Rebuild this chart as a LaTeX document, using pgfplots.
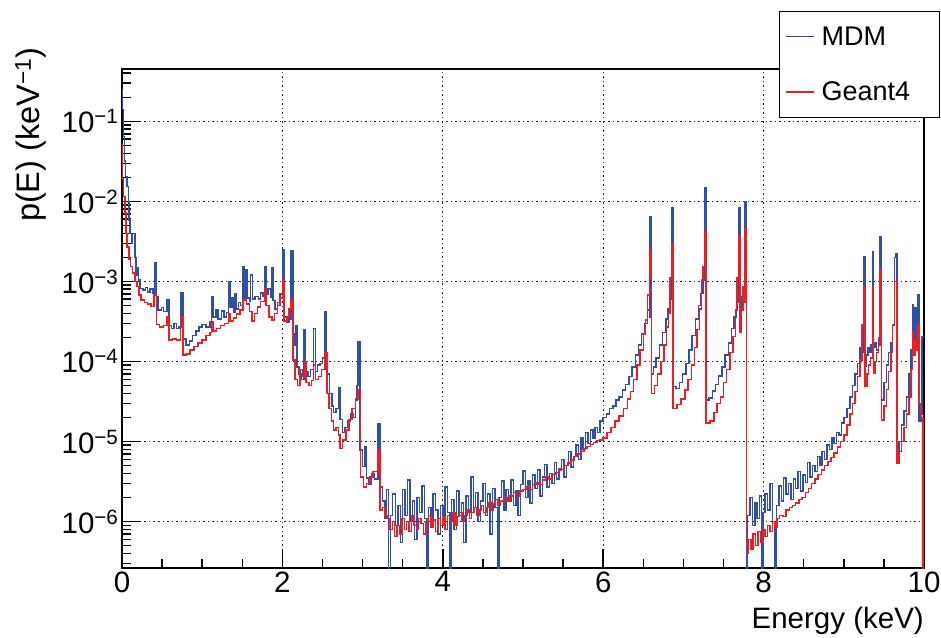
\documentclass[border=0pt]{standalone}
\usepackage{fontspec}
\setmainfont{Liberation Sans}
\usepackage{pgfplots}
\pgfplotsset{compat=1.18}
\definecolor{mdmblue}{RGB}{48,80,168}
\definecolor{gred}{RGB}{236,30,36}
\begin{document}
\begin{tikzpicture}
\path[use as bounding box] (-122pt,-69pt) rectangle (819pt,568pt);
\begin{axis}[
  at={(0pt,0pt)}, anchor=south west,
  scale only axis, width=802pt, height=499pt,
  ymode=log, xmin=0, xmax=10, ymin=2.63e-7, ymax=0.452,
  axis line style={line width=1.5pt},
  tick style={line width=1.5pt, black},
  tick align=inside, xtick pos=bottom, ytick pos=left,
  major tick length=19pt, minor tick length=9pt,
  xtick={0,2,4,6,8,10}, xticklabels={0,2,4,6,8,10},
  minor x tick num=3,
  ytick={1e-6,1e-5,1e-4,1e-3,1e-2,1e-1},
  yticklabels={10\textsuperscript{−6},10\textsuperscript{−5},10\textsuperscript{−4},10\textsuperscript{−3},10\textsuperscript{−2},10\textsuperscript{−1}},
  minor ytick={3e-7,4e-7,5e-7,6e-7,7e-7,8e-7,9e-7,
    2e-6,3e-6,4e-6,5e-6,6e-6,7e-6,8e-6,9e-6,
    2e-5,3e-5,4e-5,5e-5,6e-5,7e-5,8e-5,9e-5,
    2e-4,3e-4,4e-4,5e-4,6e-4,7e-4,8e-4,9e-4,
    2e-3,3e-3,4e-3,5e-3,6e-3,7e-3,8e-3,9e-3,
    2e-2,3e-2,4e-2,5e-2,6e-2,7e-2,8e-2,9e-2,
    2e-1,3e-1,4e-1},
  xmajorgrids, ymajorgrids,
  major grid style={line width=1.1pt, black!85, dash pattern=on 1.5pt off 3pt},
  tick label style={font=\fontsize{29.5}{34}\selectfont},
  xlabel={Energy (keV)},
  xlabel style={font=\fontsize{29.5}{34}\selectfont, at={(axis description cs:1,-0.078)}, anchor=north east, inner sep=0pt},
  ylabel={p(E) (keV\textsuperscript{−1})},
  ylabel style={font=\fontsize{32.5}{38}\selectfont, at={(axis description cs:-0.1135,0.693)}, anchor=west, inner sep=0pt},
  legend style={at={(axis description cs:0.819,1.116)}, anchor=north west,
    draw=black, line width=1pt, fill=white, inner xsep=6pt, inner ysep=13pt,
    row sep=31pt, font=\fontsize{27}{32}\selectfont, legend cell align=left,
    /tikz/every odd column/.append style={column sep=5pt}},
  legend image code/.code={\draw[#1, line width=1.3pt] (0pt,0pt) -- (28pt,0pt);},
  clip=true,
]
\addplot[const plot, color=mdmblue, line width=1.5pt] table[x=x,y=y] {
x y
0.000 0.25
0.008 0.14
0.016 0.065
0.030 0.032
0.045 0.0205
0.065 0.0154
0.080 0.0100
0.090 0.0059
0.100 0.0040
0.118 0.0030
0.128 0.0040
0.160 0.0020
0.175 0.0012
0.190 0.0015
0.205 0.00105
0.225 0.00082
0.260 0.00078
0.290 0.00084
0.320 0.00074
0.350 0.00080
0.385 0.00072
0.410 0.0017
0.430 0.00065
0.450 0.00044
0.490 0.00047
0.520 0.00042
0.560 0.00059
0.585 0.00028
0.620 0.00026
0.650 0.00030
0.680 0.00026
0.710 0.00027
0.735 0.00072
0.760 0.00019
0.800 0.00016
0.840 0.00018
0.880 0.00021
0.920 0.00024
0.960 0.00027
1.000 0.00029
1.050 0.00027
1.100 0.00031
1.115 0.00065
1.135 0.00036
1.170 0.00044
1.200 0.00034
1.240 0.00043
1.270 0.00036
1.300 0.00041
1.325 0.0010
1.345 0.00047
1.370 0.00062
1.390 0.00041
1.410 0.00070
1.430 0.00045
1.455 0.00055
1.480 0.00050
1.510 0.00155
1.530 0.00060
1.545 0.00140
1.565 0.00062
1.590 0.00056
1.605 0.00120
1.625 0.00060
1.660 0.00065
1.700 0.00060
1.730 0.00072
1.760 0.00066
1.775 0.00155
1.795 0.00070
1.820 0.00080
1.850 0.00064
1.865 0.0015
1.885 0.00058
1.910 0.00045
1.940 0.00055
1.970 0.00070
2.000 0.0025
2.020 0.00036
2.050 0.00031
2.080 0.00034
2.105 0.0024
2.130 0.00016
2.155 0.00022
2.165 0.00028
2.180 0.000085
2.210 0.000070
2.240 0.000060
2.270 0.00025
2.290 0.000075
2.320 0.000065
2.350 0.000080
2.390 0.00026
2.410 0.000075
2.440 0.000090
2.470 0.000095
2.500 0.00011
2.530 0.00042
2.550 0.00012
2.565 0.000070
2.590 0.000040
2.620 0.000028
2.640 0.000023
2.670 0.000026
2.700 0.000047
2.720 0.000019
2.750 0.000013
2.780 0.000015
2.810 0.000018
2.850 0.000022
2.880 0.000020
2.910 0.000033
2.930 0.000050
2.945 0.000178
2.970 0.0000079
3.000 0.0000049
3.030 0.0000085
3.050 0.0000035
3.080 0.0000029
3.110 0.0000040
3.150 0.0000034
3.195 0.0000165
3.220 0.0000027
3.250 0.0000018
3.280 0.0000011
3.300 0.0000025
3.320 0.0000001
3.345 0.0000012
3.37 2.2e-6
3.41 9e-7
3.44 1.6e-6
3.47 5.5e-7
3.50 2.5e-6
3.53 1.2e-6
3.56 3.3e-6
3.59 1.0e-6
3.62 1.8e-6
3.65 6e-7
3.68 2.0e-6
3.71 1.3e-6
3.74 2.8e-6
3.77 1.1e-6
3.80 1e-7
3.82 1.5e-6
3.85 9e-7
3.88 2.2e-6
3.91 1.4e-6
3.94 7e-7
3.97 1.6e-6
4.00 1.1e-6
4.03 2.7e-6
4.06 1.3e-6
4.09 1e-7
4.11 1.9e-6
4.14 8e-7
4.17 2.4e-6
4.20 1.2e-6
4.23 1.7e-6
4.26 5.5e-7
4.29 2.1e-6
4.32 1.3e-6
4.35 3.6e-6
4.38 1.5e-6
4.41 2.3e-6
4.44 1.0e-6
4.47 1.8e-6
4.50 3.0e-6
4.53 1.2e-6
4.56 2.2e-6
4.59 7e-7
4.62 2.6e-6
4.65 1.5e-6
4.68 1e-7
4.70 2.0e-6
4.73 3.2e-6
4.76 1.4e-6
4.79 2.5e-6
4.82 1.8e-6
4.85 3.3e-6
4.88 1.6e-6
4.91 2.4e-6
4.94 1.2e-6
4.97 2.9e-6
5.00 4.3e-6
5.03 2.0e-6
5.06 3.2e-6
5.09 1.7e-6
5.12 3.8e-6
5.15 2.6e-6
5.18 4.4e-6
5.21 2.1e-6
5.24 3.6e-6
5.27 5.2e-6
5.30 2.7e-6
5.33 4.0e-6
5.36 3.0e-6
5.39 5.5e-6
5.42 3.4e-6
5.45 4.6e-6
5.48 6.0e-6
5.51 3.6e-6
5.54 5.0e-6
5.57 7.5e-6
5.60 4.8e-6
5.63 6.5e-6
5.66 9.0e-6
5.69 6.0e-6
5.72 1.1e-5
5.75 8.0e-6
5.78 1.3e-5
5.81 9.5e-6
5.84 1.4e-5
5.87 1.1e-5
5.90 1.5e-5
5.93 1.3e-5
5.96 1.8e-5
6.00 2.0e-5
6.04 2.2e-5
6.08 2.6e-5
6.12 2.8e-5
6.16 3.3e-5
6.20 3.6e-5
6.24 4.4e-5
6.28 5.2e-5
6.32 6.5e-5
6.36 8.5e-5
6.40 1.2e-4
6.44 1.6e-4
6.48 2.2e-4
6.52 3.0e-4
6.555 4.4e-4
6.575 3.6e-4
6.585 6.5e-3
6.600 7.0e-5
6.630 8.5e-5
6.660 1.1e-4
6.700 1.6e-4
6.740 2.3e-4
6.780 3.4e-4
6.810 4.6e-4
6.835 6.0e-4
6.850 8.3e-3
6.870 4.9e-5
6.910 4.6e-5
6.950 5.5e-5
6.990 7.0e-5
7.030 9.5e-5
7.070 1.4e-4
7.110 2.1e-4
7.150 3.4e-4
7.190 5.0e-4
7.220 7.1e-4
7.245 1.05e-3
7.260 1.48e-2
7.280 3.3e-5
7.320 3.5e-5
7.360 4.3e-5
7.400 5.2e-5
7.440 6.6e-5
7.480 8.5e-5
7.520 1.2e-4
7.560 1.7e-4
7.600 2.6e-4
7.630 3.6e-4
7.660 5.5e-4
7.680 8.0e-4
7.690 8.3e-3
7.705 4.4e-4
7.720 6.5e-4
7.745 7.5e-4
7.765 1.0e-2
7.785 1e-7
7.800 1.2e-6
7.83 2.0e-6
7.86 9e-7
7.89 1.7e-6
7.92 1.1e-6
7.95 2.1e-6
7.975 1e-7
7.99 1.3e-6
8.02 2.2e-6
8.05 1.4e-6
8.08 3.0e-6
8.11 1.0e-6
8.14 1e-7
8.16 1.6e-6
8.19 2.8e-6
8.22 1.8e-6
8.25 3.5e-6
8.28 2.2e-6
8.31 3.0e-6
8.34 1.9e-6
8.37 3.4e-6
8.40 2.6e-6
8.43 4.2e-6
8.46 2.4e-6
8.49 3.8e-6
8.52 3.1e-6
8.55 5.5e-6
8.58 3.6e-6
8.61 5.0e-6
8.64 4.2e-6
8.67 6.5e-6
8.70 5.0e-6
8.73 7.5e-6
8.76 6.0e-6
8.79 9.0e-6
8.82 8.0e-6
8.85 1.1e-5
8.88 9.5e-6
8.91 1.3e-5
8.94 1.2e-5
8.97 1.7e-5
9.00 2.0e-5
9.04 2.6e-5
9.08 3.6e-5
9.11 5.0e-5
9.14 7.0e-5
9.17 9.5e-5
9.20 1.5e-4
9.225 1.3e-4
9.245 2.05e-3
9.265 8.7e-5
9.28 1.2e-4
9.30 1.5e-4
9.32 1.3e-4
9.34 1.6e-4
9.355 2.37e-3
9.37 1.5e-4
9.39 1.7e-4
9.41 1.4e-4
9.43 2.0e-4
9.45 3.6e-3
9.47 3.3e-5
9.50 5.5e-5
9.53 9.0e-5
9.56 1.3e-4
9.59 1.7e-4
9.61 2.8e-4
9.63 2.0e-3
9.645 2.25e-3
9.665 7.5e-6
9.69 1.0e-5
9.72 1.6e-5
9.75 2.4e-5
9.78 3.6e-5
9.81 7.1e-5
9.835 1.4e-4
9.855 5.1e-4
9.87 1.4e-4
9.885 4.7e-4
9.90 1.6e-4
9.915 2.2e-4
9.925 6.8e-4
9.94 1.8e-5
9.96 2.2e-5
9.975 2.05e-4
10.0 2.05e-4
};
\addlegendentry{\makebox[110pt][l]{MDM}}
\addplot[const plot, color=gred, line width=1.5pt] table[x=x,y=y] {
x y
0.000 0.051
0.008 0.019
0.020 0.0116
0.035 0.0072
0.050 0.0040
0.065 0.0027
0.085 0.0019
0.105 0.00155
0.130 0.00127
0.160 0.00100
0.185 0.00087
0.210 0.00068
0.240 0.00059
0.280 0.00055
0.320 0.00052
0.360 0.00049
0.400 0.00068
0.430 0.00029
0.470 0.00027
0.520 0.00028
0.560 0.00036
0.585 0.000185
0.630 0.00019
0.680 0.000185
0.730 0.00036
0.760 0.000120
0.800 0.000125
0.850 0.000140
0.900 0.000155
0.950 0.000170
1.000 0.000185
1.050 0.00021
1.100 0.00023
1.115 0.00031
1.135 0.00024
1.180 0.00026
1.230 0.00028
1.280 0.00030
1.325 0.00040
1.345 0.00032
1.390 0.00035
1.430 0.00039
1.470 0.00044
1.510 0.00059
1.550 0.00052
1.590 0.00042
1.620 0.00032
1.650 0.00040
1.690 0.00048
1.730 0.00056
1.775 0.00080
1.795 0.00050
1.830 0.00036
1.870 0.00033
1.900 0.00040
1.940 0.00050
1.970 0.00062
2.000 0.00105
2.020 0.00032
2.060 0.00036
2.085 0.00045
2.105 0.00059
2.130 0.000105
2.160 0.000060
2.190 0.000050
2.220 0.000080
2.250 0.000065
2.275 0.000100
2.295 0.000055
2.330 0.000050
2.360 0.000058
2.390 0.000090
2.410 0.000060
2.450 0.000065
2.490 0.000080
2.530 0.000127
2.555 0.000040
2.580 0.000026
2.610 0.000018
2.640 0.000014
2.670 0.000015
2.700 0.000012
2.720 0.0000082
2.750 0.0000105
2.790 0.000014
2.830 0.000019
2.870 0.000026
2.910 0.000034
2.945 0.000045
2.975 0.0000036
3.010 0.0000027
3.050 0.0000030
3.090 0.0000036
3.130 0.0000042
3.190 0.0000079
3.215 0.0000014
3.250 0.0000015
3.280 0.0000012
3.310 0.0000011
3.340 0.0000008
3.370 0.0000010
3.40 6.5e-7
3.43 9e-7
3.46 7e-7
3.49 1.1e-6
3.52 8e-7
3.55 1.0e-6
3.58 7.5e-7
3.61 1.2e-6
3.64 9e-7
3.67 8e-7
3.70 1.1e-6
3.73 9.5e-7
3.76 7e-7
3.79 1.0e-6
3.82 1.2e-6
3.85 8.5e-7
3.88 1.05e-6
3.91 7.5e-7
3.94 1.1e-6
3.97 9e-7
4.00 1.15e-6
4.03 8e-7
4.06 1.2e-6
4.09 1.0e-6
4.12 1.3e-6
4.15 9e-7
4.18 1.15e-6
4.21 1.3e-6
4.24 1.0e-6
4.27 1.2e-6
4.30 1.4e-6
4.33 1.1e-6
4.36 1.3e-6
4.39 1.5e-6
4.42 1.2e-6
4.45 1.4e-6
4.48 1.6e-6
4.51 1.3e-6
4.54 1.5e-6
4.57 1.7e-6
4.60 1.4e-6
4.63 1.65e-6
4.66 1.9e-6
4.69 1.6e-6
4.72 1.8e-6
4.76 2.0e-6
4.80 1.8e-6
4.84 2.1e-6
4.88 2.3e-6
4.92 2.1e-6
4.96 2.4e-6
5.00 2.5e-6
5.04 2.7e-6
5.08 2.5e-6
5.12 2.9e-6
5.16 3.1e-6
5.20 2.9e-6
5.24 3.3e-6
5.28 3.6e-6
5.32 3.4e-6
5.36 3.9e-6
5.40 4.1e-6
5.44 4.4e-6
5.48 4.5e-6
5.52 5.0e-6
5.56 5.4e-6
5.60 5.9e-6
5.64 6.5e-6
5.68 7.0e-6
5.72 7.5e-6
5.76 8.2e-6
5.80 8.7e-6
5.84 9.2e-6
5.88 9.8e-6
5.92 1.03e-5
5.96 1.05e-5
6.00 1.1e-5
6.05 1.3e-5
6.10 1.5e-5
6.15 1.8e-5
6.20 2.1e-5
6.25 2.6e-5
6.30 3.4e-5
6.34 4.2e-5
6.38 6.0e-5
6.42 9.0e-5
6.46 1.4e-4
6.50 2.2e-4
6.53 3.3e-4
6.555 6.8e-4
6.575 1.15e-3
6.585 2.5e-3
6.600 4.0e-5
6.640 5.0e-5
6.680 7.0e-5
6.720 1.0e-4
6.760 1.6e-4
6.790 2.7e-4
6.815 4.0e-4
6.835 1.1e-3
6.850 3.0e-3
6.870 2.6e-5
6.920 2.9e-5
6.970 3.4e-5
7.020 4.4e-5
7.060 6.0e-5
7.100 9.0e-5
7.140 1.5e-4
7.170 2.5e-4
7.200 4.5e-4
7.225 1.05e-3
7.245 1.55e-3
7.260 4.2e-3
7.280 1.7e-5
7.330 1.8e-5
7.380 2.3e-5
7.420 3.0e-5
7.460 3.6e-5
7.500 5.5e-5
7.540 7.9e-5
7.580 1.3e-4
7.620 2.05e-4
7.650 4.4e-4
7.670 1.1e-3
7.690 3.6e-3
7.705 2.3e-4
7.720 4.4e-4
7.740 8.7e-4
7.755 5.5e-4
7.765 4.6e-3
7.785 4e-7
7.81 6e-7
7.84 4.5e-7
7.87 7e-7
7.90 5e-7
7.93 7.5e-7
7.96 5.5e-7
7.99 8e-7
8.02 6.5e-7
8.05 9e-7
8.08 7.5e-7
8.11 1.0e-6
8.14 8.5e-7
8.17 1.1e-6
8.20 1.2e-6
8.24 1.15e-6
8.28 1.4e-6
8.32 1.5e-6
8.36 1.6e-6
8.40 1.7e-6
8.44 1.9e-6
8.48 2.0e-6
8.52 2.3e-6
8.56 2.6e-6
8.60 3.0e-6
8.64 3.4e-6
8.68 3.9e-6
8.72 4.4e-6
8.76 5.0e-6
8.80 5.6e-6
8.84 6.3e-6
8.88 7.2e-6
8.92 8.5e-6
8.96 1.0e-5
9.00 1.2e-5
9.04 1.6e-5
9.08 2.2e-5
9.11 3.0e-5
9.14 4.2e-5
9.17 6.5e-5
9.20 1.05e-4
9.225 2.9e-4
9.245 8.7e-4
9.265 4.9e-5
9.29 7e-5
9.31 9e-5
9.33 1.1e-4
9.355 8.7e-4
9.37 7.1e-5
9.39 1.0e-4
9.41 1.3e-4
9.43 1.6e-4
9.45 1.4e-3
9.47 1.87e-5
9.50 2.8e-5
9.53 4.5e-5
9.56 7.5e-5
9.59 1.3e-4
9.61 2.9e-4
9.63 1.0e-3
9.665 5.4e-6
9.69 7.5e-6
9.72 1.0e-5
9.75 1.5e-5
9.78 2.2e-5
9.81 3.6e-5
9.835 8.0e-5
9.855 2.37e-4
9.87 1.2e-4
9.885 1.9e-4
9.90 1.4e-4
9.925 2.9e-4
9.94 3.0e-5
9.96 2.0e-5
9.985 1e-8
10.0 1e-8
};
\addlegendentry{\makebox[110pt][l]{Geant4}}
\end{axis}
\end{tikzpicture}
\end{document}
